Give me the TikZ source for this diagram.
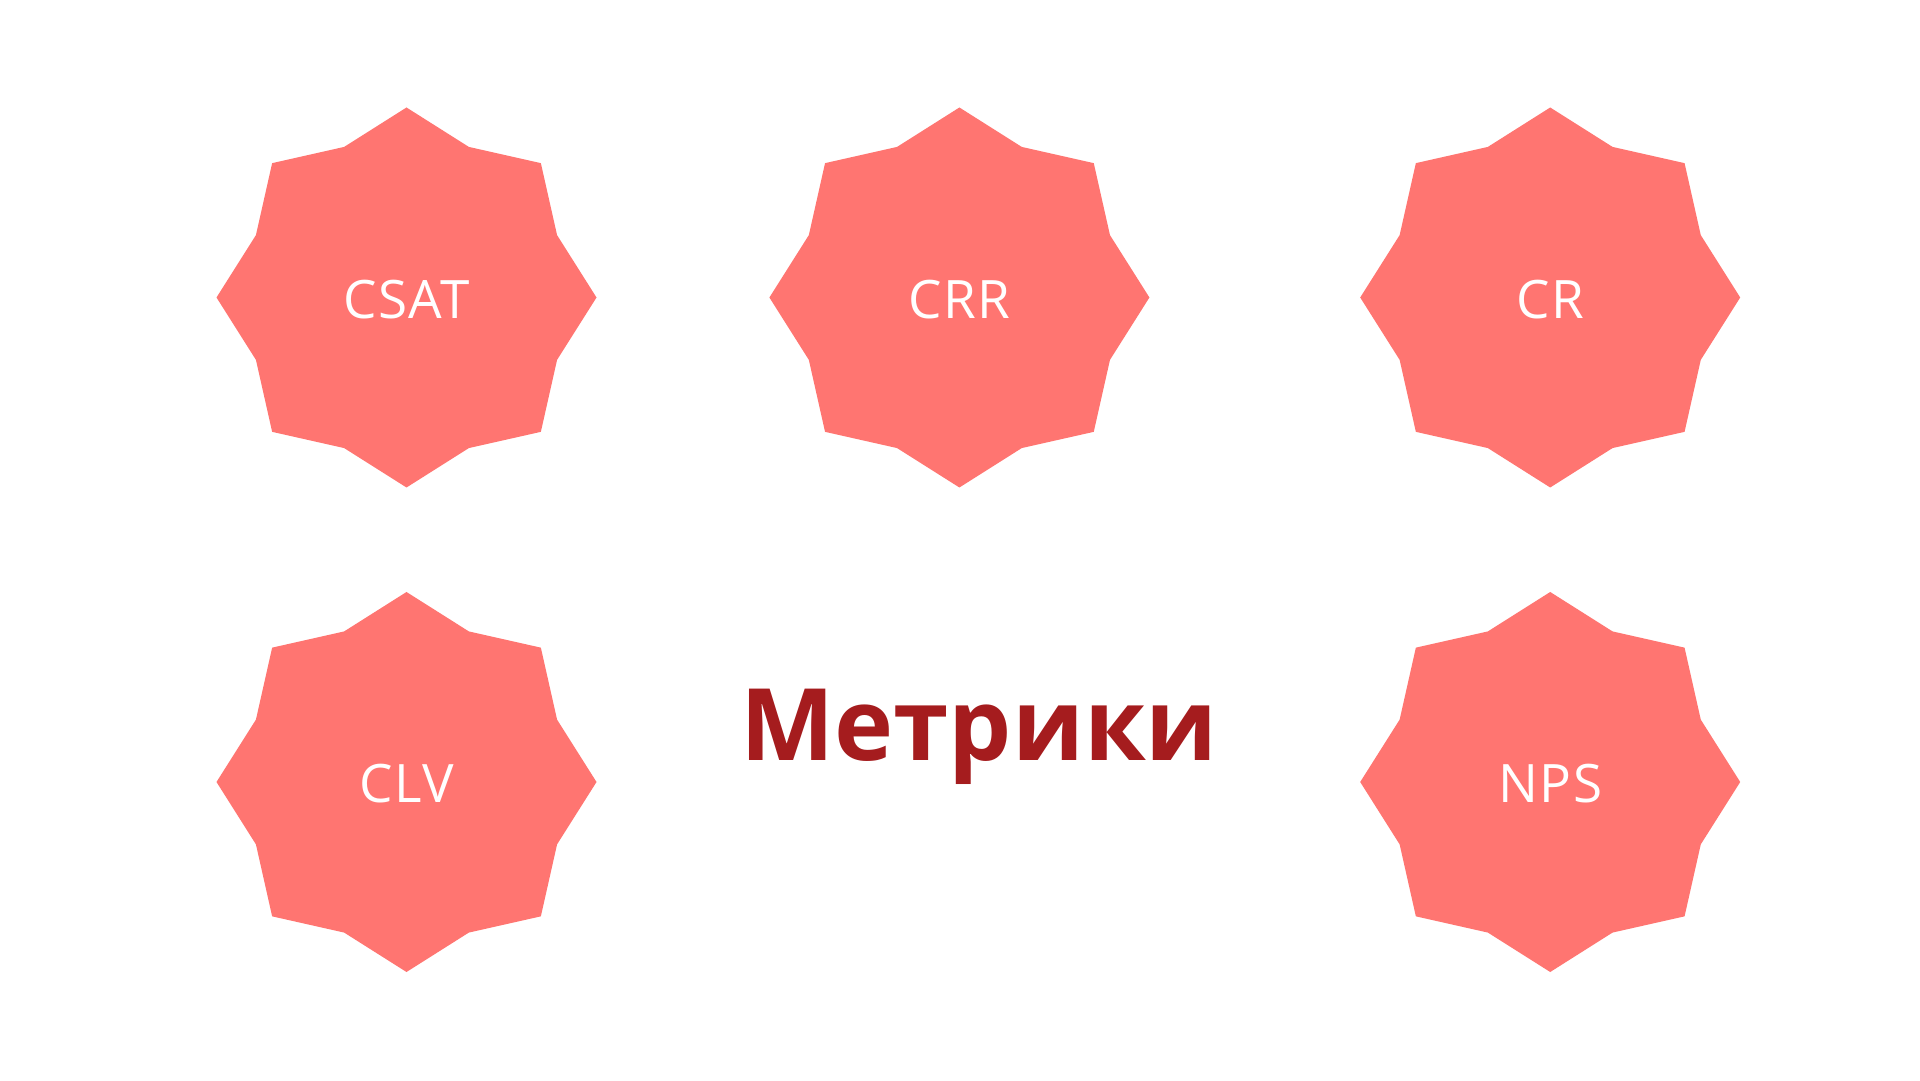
\documentclass[tikz,border=0pt]{standalone}
\usepackage{fontspec}
\setmainfont{Open Sans}
\newfontfamily\labelfont[LetterSpace=3]{Open Sans}
\usetikzlibrary{shapes.geometric}
\definecolor{starfill}{HTML}{FF7571}
\definecolor{titlered}{HTML}{A51C1E}
\tikzset{
  metric/.style={shape=star, star points=8, star point ratio=1.166,
    minimum size=380pt, inner sep=0pt, fill=starfill, draw=none},
  metriclabel/.style={text=white, inner sep=0pt,
    font=\labelfont\fontsize{53}{60}\selectfont},
  titletext/.style={text=titlered, font=\fontsize{100}{110}\selectfont\bfseries, inner sep=0pt, anchor=base}
}
\begin{document}
\begin{tikzpicture}[x=1pt,y=1pt]
\useasboundingbox[fill=white] (0,0) rectangle (1920,1080);
\node[metric] (csat) at (406.5,782.5) {};
\node[metric] (crr) at (959.4,782.5) {};
\node[metric] (cr) at (1550.2,782.5) {};
\node[metric] (clv) at (406.5,298) {};
\node[metric] (nps) at (1550.2,298) {};
\node[metriclabel] (csatl) at ([yshift=-2pt]csat.center) {CSAT};
\node[metriclabel] (crrl) at ([yshift=-2pt]crr.center) {CRR};
\node[metriclabel] (crl) at ([yshift=-2pt]cr.center) {CR};
\node[metriclabel] (clvl) at ([yshift=-2pt]clv.center) {CLV};
\node[metriclabel] (npsl) at ([yshift=-2pt]nps.center) {NPS};
\node[titletext] (title) at (979,319.3) {Метрики};
\end{tikzpicture}
\end{document}
